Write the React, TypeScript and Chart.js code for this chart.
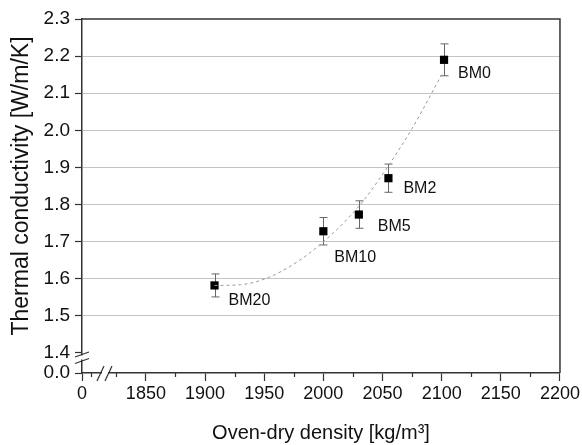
import React, { useEffect, useRef } from "react";
import { Chart, registerables } from "chart.js";

Chart.register(...registerables);

// ---- data ----
const sampleLabels = ["BM0", "BM2", "BM5", "BM10", "BM20"];
const density = [2102, 2055, 2030, 2000, 1908];
const conductivity = [2.19, 1.871, 1.773, 1.728, 1.582];
const conductivityErr = [0.043, 0.038, 0.037, 0.037, 0.031];

const fitDensity = [1908, 1930, 1954, 1980, 2002, 2020, 2035, 2054, 2075, 2091, 2100];
const fitConductivity = [1.582, 1.584, 1.604, 1.65, 1.705, 1.76, 1.815, 1.9, 2.005, 2.097, 2.15];

const xTickValues = [0, 1850, 1900, 1950, 2000, 2050, 2100, 2150, 2200];
const xMinorTickValues = [1804, 1825, 1875, 1925, 1975, 2025, 2075, 2125, 2175];
const yTickValues = [0.0, 1.4, 1.5, 1.6, 1.7, 1.8, 1.9, 2.0, 2.1, 2.2, 2.3];

const xTitle = "Oven-dry density [kg/m³]";
const yTitle = "Thermal conductivity [W/m/K]";

// axis-break layout: where the "0" ticks sit on the broken axes
const X_ZERO_POS = 1796;
const Y_ZERO_POS = 1.346;

const labelOffsets = [
  [14, 14],
  [15, 10],
  [19, 12],
  [11, 26],
  [14, 15],
];

const FONT = "'Liberation Sans', Arial, sans-serif";
const AXIS = "#333";

const xPos = (v: number) => (v === 0 ? X_ZERO_POS : v);
const yPos = (v: number) => (v === 0 ? Y_ZERO_POS : v);

const decorPlugin = {
  id: "decor",
  beforeDatasetsDraw(chart: any) {
    const { ctx, scales } = chart;
    const xs = scales.x, ys = scales.y;
    ctx.save();
    ctx.strokeStyle = "#666";
    ctx.lineWidth = 1;
    for (let i = 0; i < density.length; i++) {
      const px = Math.round(xs.getPixelForValue(density[i])) + 0.5;
      const top = ys.getPixelForValue(conductivity[i] + conductivityErr[i]);
      const bot = ys.getPixelForValue(conductivity[i] - conductivityErr[i]);
      ctx.beginPath();
      ctx.moveTo(px, top);
      ctx.lineTo(px, bot);
      ctx.moveTo(px - 4, top);
      ctx.lineTo(px + 4, top);
      ctx.moveTo(px - 4, bot);
      ctx.lineTo(px + 4, bot);
      ctx.stroke();
    }
    ctx.restore();
  },
  afterDatasetsDraw(chart: any) {
    const { ctx, scales, chartArea } = chart;
    const xs = scales.x, ys = scales.y;
    ctx.save();
    // labels
    ctx.fillStyle = "#111";
    ctx.font = `16px ${FONT}`;
    ctx.textAlign = "left";
    ctx.textBaseline = "middle";
    for (let i = 0; i < sampleLabels.length; i++) {
      const px = xs.getPixelForValue(density[i]);
      const py = ys.getPixelForValue(conductivity[i]);
      ctx.fillText(sampleLabels[i], px + labelOffsets[i][0], py + labelOffsets[i][1]);
    }
    // y title
    ctx.save();
    ctx.font = `23px ${FONT}`;
    ctx.textAlign = "center";
    ctx.textBaseline = "middle";
    ctx.translate(22, (chartArea.top + chartArea.bottom) / 2 - 10);
    ctx.rotate(-Math.PI / 2);
    ctx.fillText(yTitle, 0, 0);
    ctx.restore();
    // frame: top and right
    ctx.strokeStyle = AXIS;
    ctx.lineWidth = 1.5;
    ctx.beginPath();
    ctx.moveTo(chartArea.left, chartArea.top);
    ctx.lineTo(chartArea.right, chartArea.top);
    ctx.lineTo(chartArea.right, chartArea.bottom);
    ctx.stroke();
    // minor ticks on x
    ctx.lineWidth = 1.2;
    ctx.beginPath();
    for (const v of xMinorTickValues) {
      const px = Math.round(xs.getPixelForValue(v)) + 0.5;
      ctx.moveTo(px, chartArea.bottom);
      ctx.lineTo(px, chartArea.bottom + 4);
    }
    ctx.stroke();
    // x break
    const bx = chartArea.left + 23;
    const by = chartArea.bottom;
    ctx.fillStyle = "#fff";
    ctx.fillRect(bx - 3, by - 2, 6, 4);
    ctx.beginPath();
    ctx.moveTo(bx - 8, by + 8);
    ctx.lineTo(bx - 1, by - 7);
    ctx.moveTo(bx, by + 8);
    ctx.lineTo(bx + 7, by - 7);
    ctx.stroke();
    // y break
    const ax = chartArea.left;
    const y14 = ys.getPixelForValue(1.4);
    const yb = y14 + 4.5;
    ctx.fillRect(ax - 2, yb - 2, 4, 4);
    ctx.beginPath();
    ctx.moveTo(ax - 7, yb - 0.5);
    ctx.lineTo(ax + 7, yb - 5.5);
    ctx.moveTo(ax - 7, yb + 6);
    ctx.lineTo(ax + 7, yb + 1);
    ctx.stroke();
    ctx.restore();
  },
};

export default function App() {
  const ref = useRef<HTMLCanvasElement | null>(null);
  useEffect(() => {
    document.body.style.margin = "0";
    const canvas = ref.current!;
    const chart = new Chart(canvas, {
      type: "scatter",
      data: {
        datasets: [
          {
            label: "fit",
            data: fitDensity.map((x, i) => ({ x, y: fitConductivity[i] })),
            showLine: true,
            borderColor: "#9a9a9a",
            borderWidth: 1,
            borderDash: [3, 3],
            pointRadius: 0,
            cubicInterpolationMode: "monotone",
          } as any,
          {
            label: "samples",
            data: density.map((x, i) => ({ x, y: conductivity[i] })),
            pointStyle: "rect",
            pointRadius: 5.8,
            backgroundColor: "#000",
            borderColor: "#000",
            borderWidth: 0,
          } as any,
        ],
      },
      plugins: [decorPlugin],
      options: {
        animation: false,
        responsive: false,
        layout: { padding: { left: 0, top: 19, right: 20, bottom: 0 } },
        plugins: { legend: { display: false }, tooltip: { enabled: false } },
        scales: {
          x: {
            type: "linear",
            min: X_ZERO_POS,
            max: 2200,
            afterBuildTicks: (s: any) => {
              s.ticks = xTickValues.map((v) => ({ value: xPos(v) }));
            },
            afterFit: (s: any) => {
              s.height = 72;
            },
            ticks: {
              font: { family: FONT, size: 18 },
              color: "#111",
              padding: 2,
              maxRotation: 0,
              autoSkip: false,
              callback: (v: any) => (v === X_ZERO_POS ? "0" : String(v)),
            },
            grid: {
              display: true,
              drawOnChartArea: false,
              tickLength: 8,
              tickColor: AXIS,
              tickWidth: 1.2,
            },
            border: { color: AXIS, width: 1.5 },
            title: {
              display: true,
              text: xTitle,
              font: { family: FONT, size: 20 },
              color: "#111",
              padding: { top: 6, bottom: 0 },
            },
          },
          y: {
            type: "linear",
            min: Y_ZERO_POS,
            max: 2.3,
            afterBuildTicks: (s: any) => {
              s.ticks = yTickValues.map((v) => ({ value: yPos(v) }));
            },
            afterFit: (s: any) => {
              s.width = 82;
            },
            ticks: {
              font: { family: FONT, size: 19 },
              color: "#111",
              padding: 5,
              autoSkip: false,
              callback: (v: any) => (v === Y_ZERO_POS ? "0.0" : Number(v).toFixed(1)),
            },
            grid: {
              display: true,
              drawOnChartArea: true,
              color: (c: any) => {
                const v = c.tick ? c.tick.value : 0;
                return v > 1.45 && v < 2.25 ? "#c4c4c4" : "rgba(0,0,0,0)";
              },
              lineWidth: 1,
              tickLength: 7,
              tickColor: AXIS,
              tickWidth: 1.2,
            },
            border: { color: AXIS, width: 1.5 },
            title: { display: false },
          },
        },
      } as any,
    });
    return () => chart.destroy();
  }, []);
  return <canvas ref={ref} width={582} height={445} style={{ display: "block" }} />;
}
